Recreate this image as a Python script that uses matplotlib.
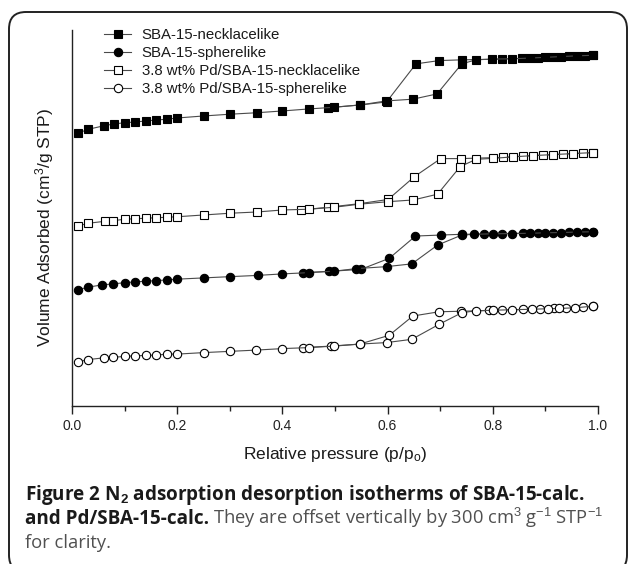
import matplotlib
matplotlib.use('Agg')
import matplotlib.pyplot as plt
from matplotlib.patches import FancyBboxPatch
from matplotlib.ticker import MultipleLocator

plt.rcParams['font.family'] = ['Liberation Sans', 'DejaVu Sans']
plt.rcParams['mathtext.fontset'] = 'custom'
plt.rcParams['mathtext.rm'] = 'Liberation Sans'
plt.rcParams['mathtext.it'] = 'Liberation Sans:italic'
plt.rcParams['mathtext.bf'] = 'Liberation Sans:bold'

# ---------------- data (volumes include the vertical offsets) ----------------
labels = ['SBA-15-necklacelike', 'SBA-15-spherelike',
          '3.8 wt% Pd/SBA-15-necklacelike', '3.8 wt% Pd/SBA-15-spherelike']

nk_ads_p = [0.011, 0.031, 0.061, 0.079, 0.100, 0.120, 0.140, 0.160, 0.180, 0.200, 0.250, 0.300,
            0.352, 0.400, 0.450, 0.499, 0.548, 0.597, 0.648, 0.694, 0.741, 0.768, 0.798, 0.836,
            0.870, 0.900, 0.930, 0.960, 0.990]
nk_ads_v = [1088, 1104, 1118, 1125, 1130, 1133, 1137, 1141, 1144, 1149, 1157, 1164,
            1170, 1177, 1185, 1192, 1201, 1217, 1224, 1245, 1365, 1381, 1384, 1385,
            1388, 1391, 1394, 1397, 1399]
nk_des_p = [0.990, 0.975, 0.945, 0.915, 0.885, 0.855, 0.817, 0.741, 0.698, 0.654, 0.598,
            0.548, 0.487]
nk_des_v = [1399, 1398, 1395, 1392, 1389, 1387, 1384, 1381, 1378, 1365, 1213,
            1201, 1190]

sp_ads_p = [0.011, 0.030, 0.057, 0.078, 0.100, 0.120, 0.140, 0.160, 0.180, 0.200, 0.250, 0.300,
            0.353, 0.400, 0.450, 0.499, 0.540, 0.598, 0.646, 0.695, 0.741, 0.765, 0.800, 0.836,
            0.870, 0.900, 0.930, 0.960, 0.990]
sp_ads_v = [463, 474, 483, 487, 492, 495, 498, 500, 503, 506, 511, 516,
            521, 527, 532, 538, 548, 556, 567, 642, 682, 685, 687, 688,
            689, 691, 692, 694, 695]
sp_des_p = [0.990, 0.975, 0.945, 0.915, 0.885, 0.857, 0.817, 0.784, 0.741, 0.701, 0.653,
            0.603, 0.549, 0.488, 0.440]
sp_des_v = [695, 694, 693, 691, 690, 689, 688, 686, 685, 682, 678,
            589, 545, 537, 532]

pn_ads_p = [0.011, 0.031, 0.063, 0.077, 0.100, 0.120, 0.140, 0.160, 0.180, 0.200, 0.250, 0.300,
            0.352, 0.400, 0.450, 0.499, 0.546, 0.600, 0.649, 0.695, 0.738, 0.768, 0.801, 0.839,
            0.877, 0.915, 0.953, 0.990]
pn_ads_v = [718, 729, 737, 739, 745, 747, 749, 751, 753, 755, 762, 769,
            774, 782, 785, 793, 805, 815, 822, 845, 955, 984, 988, 994,
            999, 1003, 1007, 1011]
pn_des_p = [0.990, 0.972, 0.934, 0.896, 0.858, 0.820, 0.740, 0.701, 0.651, 0.601, 0.546,
            0.487, 0.436]
pn_des_v = [1011, 1009, 1005, 1001, 997, 992, 987, 987, 915, 824, 807,
            793, 782]

ps_ads_p = [0.011, 0.030, 0.060, 0.078, 0.100, 0.120, 0.140, 0.160, 0.180, 0.200, 0.250, 0.300,
            0.350, 0.400, 0.450, 0.499, 0.547, 0.598, 0.646, 0.698, 0.741, 0.768, 0.800, 0.836,
            0.875, 0.904, 0.925, 0.957, 0.990]
ps_ads_v = [176, 185, 192, 194, 198, 200, 202, 203, 207, 207, 213, 218,
            223, 229, 233, 239, 247, 253, 266, 326, 372, 380, 382, 384,
            386, 388, 389, 392, 398]
ps_des_p = [0.990, 0.971, 0.940, 0.917, 0.890, 0.857, 0.817, 0.793, 0.740, 0.698, 0.648,
            0.603, 0.547, 0.492, 0.440]
ps_des_v = [398, 394, 391, 389, 387, 385, 383, 381, 378, 376, 359,
            282, 247, 239, 233]

xticks = [0.0, 0.2, 0.4, 0.6, 0.8, 1.0]
xticklabels = ['0.0', '0.2', '0.4', '0.6', '0.8', '1.0']

# ---------------- figure ----------------
fig = plt.figure(figsize=(6.3, 5.64), dpi=100)
ax = fig.add_axes([72 / 630, 158 / 564, 526 / 630, 376 / 564])

series = [
    (nk_ads_p, nk_ads_v, nk_des_p, nk_des_v, 's', 'black', labels[0]),
    (sp_ads_p, sp_ads_v, sp_des_p, sp_des_v, 'o', 'black', labels[1]),
    (pn_ads_p, pn_ads_v, pn_des_p, pn_des_v, 's', 'white', labels[2]),
    (ps_ads_p, ps_ads_v, ps_des_p, ps_des_v, 'o', 'white', labels[3]),
]
line_col = '#4a4a4a'
for ap, av, dp, dv, mk, fc, lab in series:
    ms = 6.0 if mk == 'o' else 5.8
    kw = dict(color=line_col, lw=0.8, marker=mk, ms=ms, mfc=fc, mec='black', mew=0.8)
    ax.plot(dp, dv, **kw)
    ax.plot(ap, av, label=lab, **kw)

ax.set_xlim(0, 1.0)
ax.set_ylim(0, 1500)
for s in ['top', 'right']:
    ax.spines[s].set_visible(False)
for s in ['left', 'bottom']:
    ax.spines[s].set_linewidth(1.0)
    ax.spines[s].set_color('#222222')
ax.tick_params(axis='y', left=False, labelleft=False)
ax.set_xticks(xticks)
ax.set_xticklabels(xticklabels)
ax.xaxis.set_minor_locator(MultipleLocator(0.1))
ax.tick_params(axis='x', which='major', direction='out', length=5.5, width=1.0,
               color='#222222', labelsize=10, labelcolor='#222222', pad=4)
ax.tick_params(axis='x', which='minor', direction='out', length=3.6, width=1.0, color='#222222')

fig.text(335 / 630, 1 - 454 / 564, 'Relative pressure (p/p$_\\mathrm{o}$)', fontsize=12.5,
         ha='center', va='center', color='#1a1a1a')
fig.text(45 / 630, 1 - 227 / 564, 'Volume Adsorbed (cm$^\\mathrm{3}$/g STP)', fontsize=12.5,
         ha='center', va='center', rotation=90, color='#1a1a1a')

leg = ax.legend(loc='upper left', bbox_to_anchor=(104 / 630, 1 - 28 / 564),
                bbox_transform=fig.transFigure, frameon=False, fontsize=10.8,
                handlelength=1.8, handletextpad=0.7, labelspacing=0.27,
                borderpad=0, borderaxespad=0, numpoints=1)
for t in leg.get_texts():
    t.set_color('#1a1a1a')

# ---------------- caption ----------------
cap_font = ['Open Sans', 'DejaVu Sans']
bold_col = '#1a1a1a'
reg_col = '#505050'
cfs = 13.6
fig.text(25 / 630, 1 - 500 / 564,
         'Figure 2 N$_\\mathbf{2}$ adsorption desorption isotherms of SBA-15-calc.',
         family=cap_font, fontweight='bold', fontsize=cfs, color=bold_col, va='baseline')
t2 = fig.text(25 / 630, 1 - 524 / 564, 'and Pd/SBA-15-calc.',
              family=cap_font, fontweight='bold', fontsize=cfs, color=bold_col, va='baseline')
fig.canvas.draw()
r = fig.canvas.get_renderer()
bb = t2.get_window_extent(r)
fig.text((bb.x1 + 4) / 630, 1 - 524 / 564,
         'They are offset vertically by 300 cm$^\\mathrm{3}$ g$^\\mathrm{-1}$ STP$^\\mathrm{-1}$',
         family=cap_font, fontsize=13.2, color=reg_col, va='baseline')
fig.text(25 / 630, 1 - 548 / 564, 'for clarity.',
         family=cap_font, fontsize=13.2, color=reg_col, va='baseline')

# ---------------- rounded frame ----------------
frame = FancyBboxPatch((0.09, -0.08), 6.18, 5.60,
                       boxstyle='round,pad=0,rounding_size=0.17',
                       transform=fig.dpi_scale_trans, fill=False,
                       edgecolor='#222222', lw=1.4)
fig.add_artist(frame)

fig.savefig('out.png', dpi=100)
